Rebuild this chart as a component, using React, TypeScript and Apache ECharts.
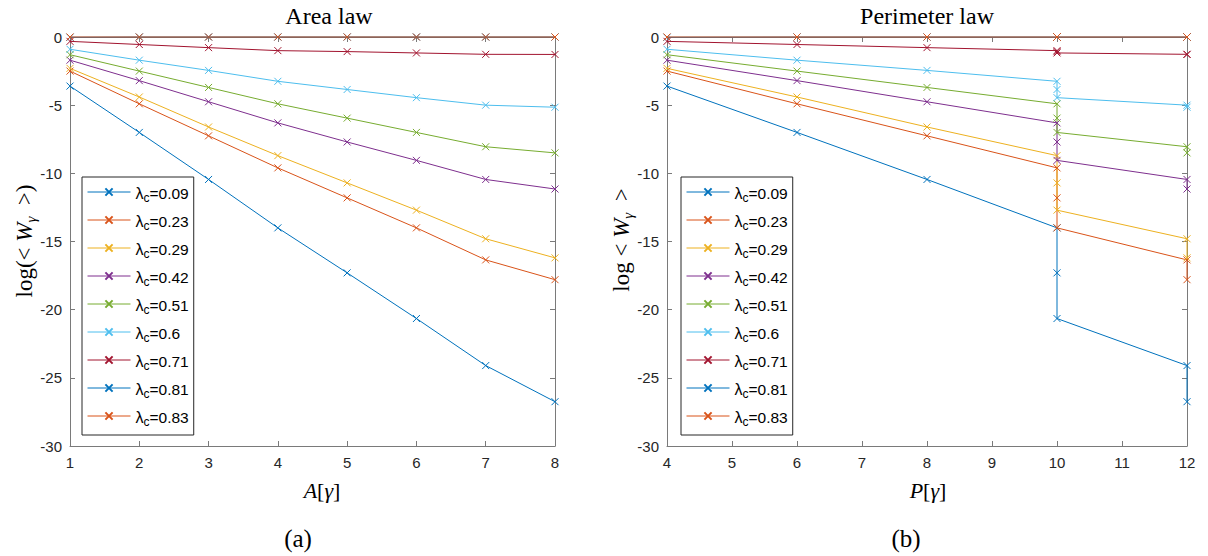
import React, { useEffect, useRef } from "react";
import * as echarts from "echarts";

// ---- data ----
const AREA_X = [1, 2, 3, 4, 5, 6, 7, 8];
const PERIM_X = [4, 6, 8, 10, 10, 10, 12, 12];

const LAMBDA_LABELS = ["0.09", "0.23", "0.29", "0.42", "0.51", "0.6", "0.71", "0.81", "0.83"];

const W_009 = [-3.6, -7.0, -10.45, -14.0, -17.3, -20.65, -24.1, -26.75];
const W_023 = [-2.5, -4.9, -7.25, -9.6, -11.8, -14.0, -16.35, -17.8];
const W_029 = [-2.3, -4.4, -6.6, -8.7, -10.7, -12.7, -14.8, -16.2];
const W_042 = [-1.7, -3.2, -4.75, -6.3, -7.7, -9.05, -10.45, -11.15];
const W_051 = [-1.3, -2.5, -3.7, -4.9, -5.95, -7.0, -8.05, -8.5];
const W_060 = [-0.9, -1.7, -2.45, -3.25, -3.85, -4.45, -5.0, -5.15];
const W_071 = [-0.32, -0.55, -0.78, -1.0, -1.07, -1.17, -1.27, -1.28];
const W_081 = [-0.02, 0, 0, 0, 0, 0, 0, 0];
const W_083 = [0, 0, 0, 0, 0, 0, 0, 0];

const SERIES_VALUES = [W_009, W_023, W_029, W_042, W_051, W_060, W_071, W_081, W_083];

const Y_MIN = -30;
const Y_MAX = 0;
const Y_STEP = 5;

const COLORS = [
  "#0072BD",
  "#D95319",
  "#EDB120",
  "#7E2F8E",
  "#77AC30",
  "#4DBEEE",
  "#A2142F",
  "#0072BD",
  "#D95319",
];

const X_SYMBOL = "path://M0,0L10,10M0,10L10,0";
const AXIS_COLOR = "#7a7a7a";
const LABEL_COLOR = "#262626";
const SANS = "Liberation Sans";
const SERIF = "Liberation Serif";

function makeXAxes(gridIndex: number, min: number, max: number) {
  const common = {
    type: "value",
    gridIndex,
    min,
    max,
    interval: 1,
    axisLine: { show: true, onZero: false, lineStyle: { color: AXIS_COLOR, width: 1 } },
    axisTick: { show: true, inside: true, length: 5, lineStyle: { color: AXIS_COLOR } },
    splitLine: { show: false },
  };
  return [
    {
      ...common,
      position: "bottom",
      axisLabel: { show: true, color: LABEL_COLOR, fontSize: 15, fontFamily: SANS, margin: 9 },
    },
    { ...common, position: "top", axisLabel: { show: false } },
  ];
}

function makeYAxes(gridIndex: number) {
  const common = {
    type: "value",
    gridIndex,
    min: Y_MIN,
    max: Y_MAX,
    interval: Y_STEP,
    axisLine: { show: true, onZero: false, lineStyle: { color: AXIS_COLOR, width: 1 } },
    axisTick: { show: true, inside: true, length: 5, lineStyle: { color: AXIS_COLOR } },
    splitLine: { show: false },
  };
  return [
    {
      ...common,
      position: "left",
      axisLabel: { show: true, color: LABEL_COLOR, fontSize: 15, fontFamily: SANS, margin: 8 },
    },
    { ...common, position: "right", axisLabel: { show: false } },
  ];
}

const seriesName = (l: string) => `λc=${l}`;

function makeLegend(left: number) {
  return {
    left,
    top: 177,
    orient: "vertical",
    data: LAMBDA_LABELS.map(seriesName),
    itemWidth: 43,
    itemHeight: 9,
    itemGap: 9,
    padding: [8, 5, 7, 5],
    borderColor: "#262626",
    borderWidth: 1,
    backgroundColor: "#ffffff",
    selectedMode: false,
    lineStyle: { width: 1 },
    formatter: (name: string) => `{g|λ}{s|c}{t|=${name.split("=")[1]}}`,
    textStyle: {
      color: "#000",
      fontFamily: SANS,
      fontSize: 15,
      rich: {
        g: { fontFamily: SANS, fontSize: 16, lineHeight: 14, verticalAlign: "top", color: "#000" },
        s: {
          fontFamily: SANS,
          fontSize: 12,
          lineHeight: 11,
          padding: [7, 0, 0, 0],
          verticalAlign: "top",
          color: "#000",
        },
        t: { fontFamily: SANS, fontSize: 15.5, lineHeight: 14, verticalAlign: "top", color: "#000" },
      },
    },
  };
}

function makeSeries() {
  const out: any[] = [];
  [AREA_X, PERIM_X].forEach((xs, g) => {
    SERIES_VALUES.forEach((vals, k) => {
      const c = COLORS[k];
      out.push({
        type: "line",
        name: seriesName(LAMBDA_LABELS[k]),
        xAxisIndex: g * 2,
        yAxisIndex: g * 2,
        data: xs.map((x, i) => [x, vals[i]]),
        symbol: X_SYMBOL,
        symbolSize: 7,
        showAllSymbol: true,
        clip: false,
        lineStyle: { color: c, width: 1 },
        itemStyle: { color: c, borderColor: c, borderWidth: 1 },
        emphasis: { disabled: true },
      });
    });
  });
  return out;
}

const yNameRich = {
  n: { fontFamily: SERIF, fontSize: 23, lineHeight: 22, verticalAlign: "top", color: "#000" },
  i: { fontFamily: SERIF, fontStyle: "italic", fontSize: 23, lineHeight: 22, verticalAlign: "top", color: "#000" },
  s: {
    fontFamily: SERIF,
    fontStyle: "italic",
    fontSize: 15,
    lineHeight: 15,
    padding: [10, 0, 0, 0],
    verticalAlign: "top",
    color: "#000",
  },
};

const xNameRich = {
  n: { fontFamily: SERIF, fontSize: 22, color: "#000" },
  i: { fontFamily: SERIF, fontStyle: "italic", fontSize: 22, color: "#000" },
};

function textEl(x: number, y: number, text: string, fontSize: number, extra: any = {}) {
  return {
    type: "text",
    x,
    y,
    silent: true,
    style: {
      text,
      fontFamily: SERIF,
      fontSize,
      fill: "#000",
      align: "center",
      verticalAlign: "middle",
      ...extra,
    },
  };
}

export default function App() {
  const ref = useRef<HTMLDivElement>(null);

  useEffect(() => {
    if (!ref.current) return;
    const chart = echarts.init(ref.current, undefined, { renderer: "svg" });
    const option: any = {
      animation: false,
      backgroundColor: "#ffffff",
      grid: [
        { left: 70, top: 37, width: 485, height: 409 },
        { left: 667, top: 37, width: 520, height: 409 },
      ],
      xAxis: [...makeXAxes(0, 1, 8), ...makeXAxes(1, 4, 12)],
      yAxis: [...makeYAxes(0), ...makeYAxes(1)],
      legend: [makeLegend(82), makeLegend(681)],
      series: makeSeries(),
      graphic: [
        textEl(329, 16, "Area law", 24),
        textEl(927, 16, "Perimeter law", 24),
        {
          type: "text",
          x: 24,
          y: 241,
          rotation: Math.PI / 2,
          silent: true,
          style: {
            text: "{n|log(< }{i|W}{s|γ}{n|  >)}",
            rich: yNameRich,
            align: "center",
            verticalAlign: "middle",
          },
        },
        {
          type: "text",
          x: 621,
          y: 240,
          rotation: Math.PI / 2,
          silent: true,
          style: {
            text: "{n|log < }{i|W}{s|γ}{n|  >}",
            rich: yNameRich,
            align: "center",
            verticalAlign: "middle",
          },
        },
        {
          type: "text",
          x: 322,
          y: 490,
          silent: true,
          style: { text: "{i|A}{n|[}{i|γ}{n|]}", rich: xNameRich, align: "center", verticalAlign: "middle" },
        },
        {
          type: "text",
          x: 928,
          y: 490,
          silent: true,
          style: { text: "{i|P}{n|[}{i|γ}{n|]}", rich: xNameRich, align: "center", verticalAlign: "middle" },
        },
        textEl(298, 538, "(a)", 25),
        textEl(906, 538, "(b)", 25),
      ],
    };
    chart.setOption(option);
    return () => chart.dispose();
  }, []);

  return (
    <div
      ref={ref}
      style={{ position: "absolute", left: 0, top: 0, width: 1208, height: 556, background: "#fff" }}
    />
  );
}
